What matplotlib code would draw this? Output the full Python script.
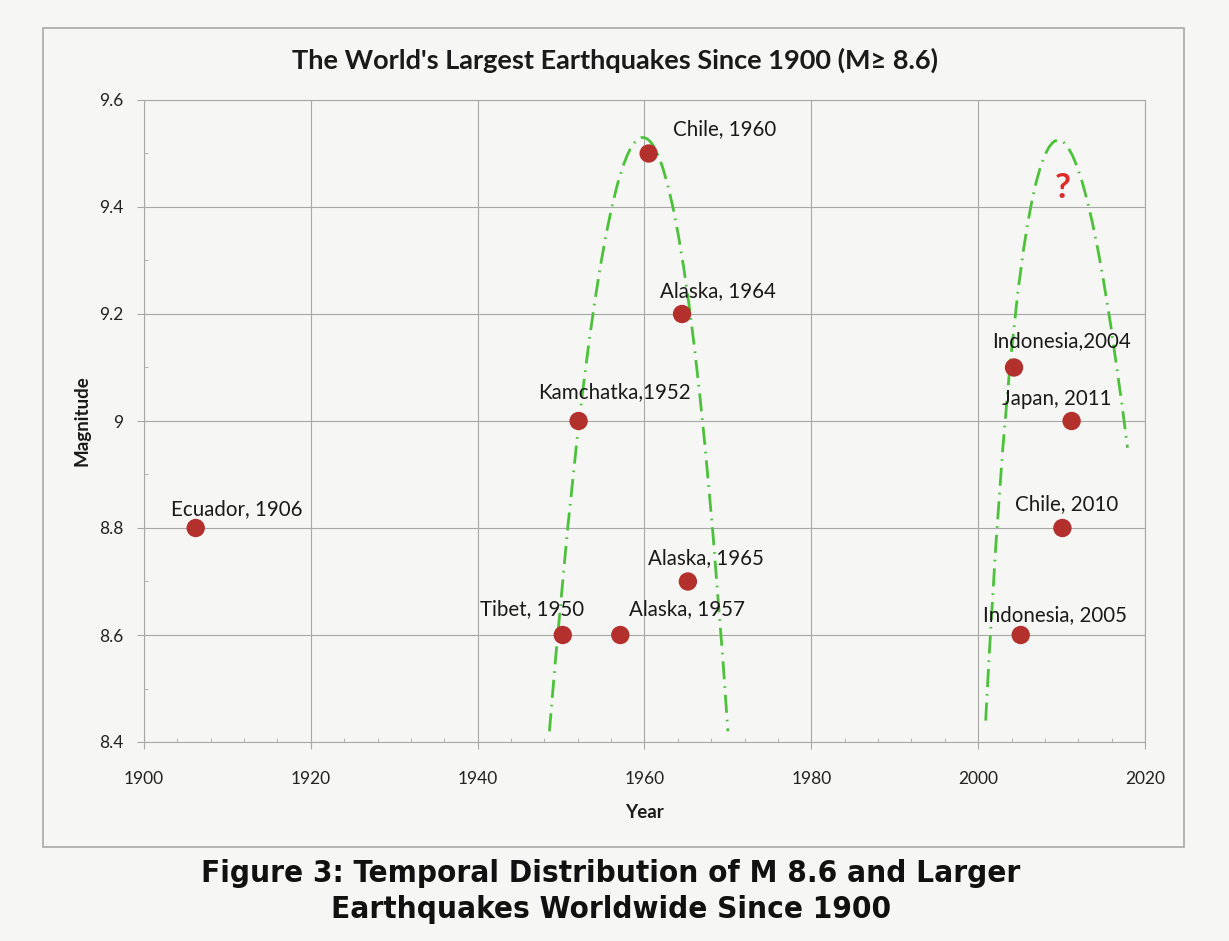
"""
Largest earthquakes since 1900 - temporal distribution scatter
"""

import matplotlib
matplotlib.use('Agg')
import matplotlib.pyplot as plt
from matplotlib.path import Path
from matplotlib.patches import PathPatch, Rectangle
from matplotlib.ticker import MultipleLocator, FuncFormatter

# Earthquake data
quake_names = ['Ecuador, 1906', 'Tibet, 1950', 'Kamchatka,1952', 'Alaska, 1957',
               'Chile, 1960', 'Alaska, 1964', 'Alaska, 1965', 'Indonesia,2004',
               'Indonesia, 2005', 'Chile, 2010', 'Japan, 2011']
quake_years = [1906.2, 1950.2, 1952.1, 1957.1, 1960.5, 1964.5, 1965.2,
               2004.3, 2005.1, 2010.1, 2011.2]
quake_mags = [8.8, 8.6, 9.0, 8.6, 9.5, 9.2, 8.7, 9.1, 8.6, 8.8, 9.0]

# label offsets in pixels (dx, dy) from each point
label_offsets = [(41, 19), (-31, 26), (36, 29), (67, 26), (76, 24), (36, 23),
                 (18, 23), (47, 26), (34, 20), (4, 24), (-15, 22)]

# hand-drawn cycle curves: start, apex, end (year, magnitude)
cycle_starts = [(1948.6, 8.42), (2000.9, 8.44)]
cycle_apexes = [(1959.8, 9.53), (2009.6, 9.525)]
cycle_ends = [(1970.0, 8.42), (2017.9, 8.95)]

x_ticks = [1900, 1920, 1940, 1960, 1980, 2000, 2020]
y_ticks = [8.4, 8.6, 8.8, 9.0, 9.2, 9.4, 9.6]

BG = '#f6f6f4'
GRID = '#a8a8a8'
FONT = 'Lato'


def arch_path(start, apex, end):
    """Quadratic bezier from start to end whose top sits at apex"""
    (xa, ya), (xv, yv), (xc, yc) = start, apex, end
    yb = yv + ((yv - ya) * (yv - yc)) ** 0.5
    t = (ya - yb) / (ya - 2 * yb + yc)
    xb = (xv - (1 - t) ** 2 * xa - t ** 2 * xc) / (2 * t * (1 - t))
    verts = [(xa, ya), (xb, yb), (xc, yc)]
    return Path(verts, [Path.MOVETO, Path.CURVE3, Path.CURVE3])


plt.rcParams['font.family'] = [FONT, 'DejaVu Sans']

fig = plt.figure(figsize=(12.29, 9.41), dpi=100, facecolor=BG)
ax = fig.add_axes([144 / 1229, 1 - 742 / 941, (1145 - 144) / 1229, (742 - 100) / 941])
ax.set_facecolor(BG)

# chart area border
fig.patches.append(Rectangle((43 / 1229, 1 - 847 / 941), (1184 - 43) / 1229, (847 - 28) / 941,
                             transform=fig.transFigure, fill=False,
                             edgecolor='#a8a8a8', linewidth=1.2))

ax.set_xlim(1900, 2020)
ax.set_ylim(8.4, 9.6)
ax.set_xticks(x_ticks)
ax.set_yticks(y_ticks)
ax.xaxis.set_minor_locator(MultipleLocator(4))
ax.yaxis.set_minor_locator(MultipleLocator(0.1))
ax.yaxis.set_major_formatter(FuncFormatter(lambda v, p: f'{v:g}'))
ax.grid(True, which='major', color=GRID, linewidth=0.8)
ax.set_axisbelow(True)
for s in ax.spines.values():
    s.set_color(GRID)
    s.set_linewidth(0.8)

ax.tick_params(axis='both', which='major', labelsize=12.5, color=GRID, length=5,
               direction='out', labelcolor='#222222')
ax.tick_params(axis='both', which='minor', color=GRID, length=3, direction='in')
ax.tick_params(axis='x', which='major', pad=16)
ax.tick_params(axis='y', which='major', pad=10)

# cycle arches
for st, ap, en in zip(cycle_starts, cycle_apexes, cycle_ends):
    patch = PathPatch(arch_path(st, ap, en), fill=False, edgecolor='#4cc23a',
                      linewidth=2.0, linestyle=(0, (6.5, 2.5, 0.6, 2.5)), zorder=3)
    ax.add_patch(patch)

# earthquakes
ax.scatter(quake_years, quake_mags, s=175, color='#b3302c', edgecolors='none', zorder=4)
for name, yr, mag, off in zip(quake_names, quake_years, quake_mags, label_offsets):
    ax.annotate(name, (yr, mag), xytext=off, textcoords='offset pixels',
                ha='center', va='center', fontsize=14.8, color='#1a1a1a', zorder=5)

ax.text(2010.2, 9.436, '?', ha='center', va='center', fontsize=25,
        fontweight='bold', color='#e02a2a', zorder=5)

fig.text(615 / 1229, 1 - 60 / 941, "The World's Largest Earthquakes Since 1900 (M\u2265 8.6)",
         ha='center', va='center', fontsize=19.5, fontweight='bold', color='#1a1a1a')
ax.set_xlabel('Year', fontsize=13.5, fontweight='bold', color='#1a1a1a', labelpad=12)
ax.set_ylabel('Magnitude', fontsize=13.5, fontweight='bold', color='#1a1a1a', labelpad=6)

# figure caption below chart
fig.text(0.497, 1 - 873 / 941, 'Figure 3: Temporal Distribution of M 8.6 and Larger',
         ha='center', va='center', fontsize=22.5, fontweight='bold',
         family=['DejaVu Sans'], fontstretch='condensed', color='#111111')
fig.text(0.497, 1 - 910 / 941, 'Earthquakes Worldwide Since 1900',
         ha='center', va='center', fontsize=22.5, fontweight='bold',
         family=['DejaVu Sans'], fontstretch='condensed', color='#111111')

fig.savefig('out.png', dpi=100, facecolor=BG)
